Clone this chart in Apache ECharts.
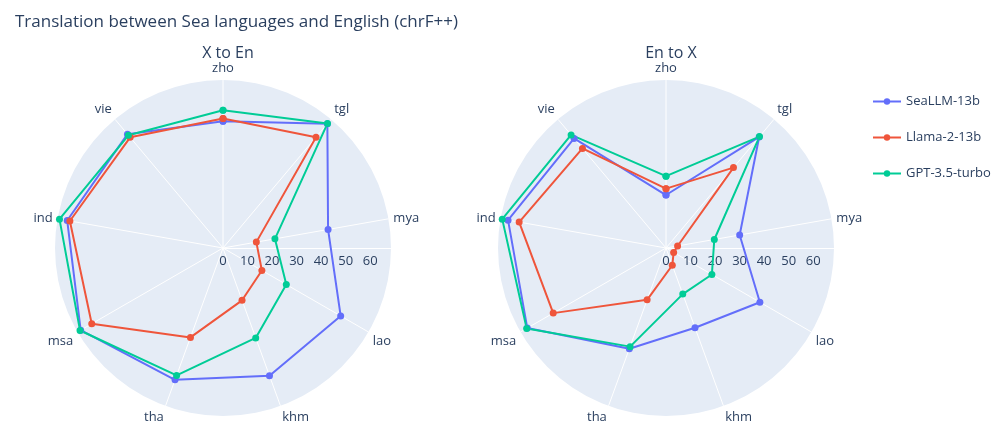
<!DOCTYPE html>
<html>
<head>
<meta charset="utf-8">
<script src="https://cdn.jsdelivr.net/npm/echarts@6/dist/echarts.min.js"></script>
<style>
  html, body { margin: 0; padding: 0; background: #fff; }
  #chart { width: 997px; height: 425px; }
</style>
</head>
<body>
<div id="chart"></div>
<script>
// languages, clockwise from the top
const languages = ['zho', 'tgl', 'mya', 'lao', 'khm', 'tha', 'msa', 'ind', 'vie']
const models = ['SeaLLM-13b', 'Llama-2-13b', 'GPT-3.5-turbo']
const colors = ['#636efa', '#EF553B', '#00cc96']
const radialTicks = [0, 10, 20, 30, 40, 50, 60]

// X to En (chrF++)
const xToEnSeaLLM = [51.7, 66.2, 43.5, 55.4, 55.4, 57.2, 67.0, 64.5, 60.6]
const xToEnLlama = [52.8, 59.0, 13.8, 18.3, 22.7, 38.8, 61.8, 63.4, 58.9]
const xToEnGPT = [56.2, 66.3, 21.5, 29.8, 39.0, 55.3, 67.3, 67.7, 60.0]

// En to X (chrF++)
const enToXSeaLLM = [21.6, 59.1, 30.5, 44.2, 34.6, 43.7, 65.3, 65.4, 58.3]
const enToXLlama = [24.2, 42.8, 4.8, 3.6, 7.5, 22.5, 53.1, 60.8, 53.0]
const enToXGPT = [29.3, 59.3, 20.0, 21.6, 20.0, 42.8, 65.6, 67.8, 60.2]

const rMax = 68.5
const step = 360 / languages.length // 40 degrees between languages
const textColor = '#2a3f5f'
const font = '"Open Sans", verdana, arial, sans-serif'
const centers = [[223, 248], [666, 248]]
const radius = 168

// closed loop: [radius, angle in degrees], first point repeated at 360
function loop(values) {
  const d = values.map((v, i) => [v, i * step])
  d.push([values[0], 360])
  return d
}

const polars = []
const angleAxes = []
const radiusAxes = []
centers.forEach(c => {
  // data polar
  polars.push({ center: c, radius: radius })
  angleAxes.push({
    polarIndex: polars.length - 1,
    type: 'value',
    min: 0,
    max: 360,
    interval: step,
    startAngle: 90,
    clockwise: true,
    axisLine: { show: false },
    axisTick: { show: false },
    axisLabel: {
      color: textColor, fontFamily: font, fontSize: 13, margin: 5,
      showMaxLabel: false,
      formatter: v => languages[Math.round(v / step)] || ''
    },
    splitLine: { show: true, lineStyle: { color: '#fff', width: 1 } }
  })
  radiusAxes.push({
    polarIndex: polars.length - 1,
    type: 'value',
    min: 0,
    max: rMax,
    interval: 10,
    axisLine: { show: false },
    axisTick: { show: false },
    axisLabel: { show: false },
    splitLine: { show: true, lineStyle: { color: '#fff', width: 1 } },
    splitArea: { show: true, areaStyle: { color: ['#E5ECF6'] } }
  })
  // overlay polar for the horizontal radial axis
  polars.push({ center: c, radius: radius })
  angleAxes.push({
    polarIndex: polars.length - 1,
    type: 'value',
    min: 0,
    max: 360,
    startAngle: 0,
    axisLine: { show: false },
    axisTick: { show: false },
    axisLabel: { show: false },
    splitLine: { show: false }
  })
  radiusAxes.push({
    polarIndex: polars.length - 1,
    type: 'value',
    min: 0,
    max: rMax,
    interval: 10,
    axisLine: { show: true, lineStyle: { color: '#fff', width: 1 } },
    axisTick: { show: false },
    axisLabel: {
      color: textColor, fontFamily: font, fontSize: 13, margin: -20,
      showMaxLabel: false,
      formatter: v => (radialTicks.indexOf(v) >= 0 ? String(v) : '')
    },
    splitLine: { show: false }
  })
})

const panels = [
  [xToEnSeaLLM, xToEnLlama, xToEnGPT],
  [enToXSeaLLM, enToXLlama, enToXGPT]
]
const series = []
panels.forEach((panel, p) => {
  panel.forEach((values, m) => {
    series.push({
      name: models[m],
      type: 'line',
      coordinateSystem: 'polar',
      polarIndex: p * 2,
      data: loop(values),
      clip: false,
      symbol: 'circle',
      symbolSize: 7,
      lineStyle: { width: 2, color: colors[m] },
      itemStyle: { color: colors[m] },
      z: 3
    })
  })
})

const chart = echarts.init(document.getElementById('chart'))
chart.setOption({
  backgroundColor: '#fff',
  animation: false,
  title: [
    {
      text: 'Translation between Sea languages and English (chrF++)',
      left: 10, top: 9,
      textStyle: { color: textColor, fontFamily: font, fontSize: 17, fontWeight: 'normal' }
    },
    {
      text: 'X to En', left: 223, top: 40, textAlign: 'center',
      textStyle: { color: textColor, fontFamily: font, fontSize: 16, fontWeight: 'normal' }
    },
    {
      text: 'En to X', left: 666, top: 40, textAlign: 'center',
      textStyle: { color: textColor, fontFamily: font, fontSize: 16, fontWeight: 'normal' }
    }
  ],
  legend: {
    data: models,
    orient: 'vertical',
    left: 867,
    top: 90,
    itemWidth: 28,
    itemHeight: 8,
    itemGap: 23,
    textStyle: { color: textColor, fontFamily: font, fontSize: 13 }
  },
  polar: polars,
  angleAxis: angleAxes,
  radiusAxis: radiusAxes,
  series: series
})
</script>
</body>
</html>
